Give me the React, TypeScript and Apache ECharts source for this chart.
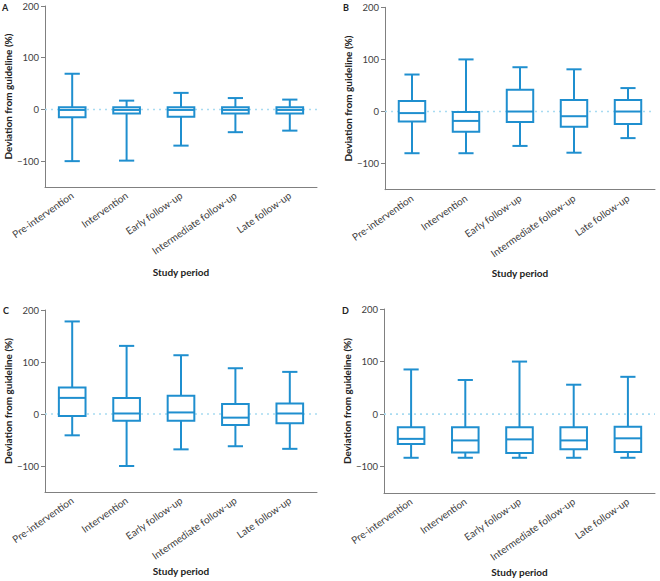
import React, { useEffect, useRef } from "react";
import * as echarts from "echarts";

const categories = [
  "Pre-intervention",
  "Intervention",
  "Early follow-up",
  "Intermediate follow-up",
  "Late follow-up",
];

// each row: [min, q1, median, q3, max]
const panelA = [
  [-100, -15, -1, 4, 69],
  [-99, -8, -1, 4, 17],
  [-70, -14, -1, 4, 32],
  [-44, -8, -1, 4, 22],
  [-41, -8, -1, 4, 19],
];
const panelB = [
  [-80, -19, -3, 20, 71],
  [-80, -39, -18, -1, 100],
  [-66, -20, 0, 42, 85],
  [-79, -29, -9, 22, 81],
  [-51, -24, 0, 22, 45],
];
const panelC = [
  [-41, -4, 31, 51, 178],
  [-100, -13, 1, 31, 131],
  [-68, -13, 3, 35, 113],
  [-62, -21, -7, 19, 88],
  [-67, -18, 1, 20, 81],
];
const panelD = [
  [-83, -57, -47, -25, 85],
  [-83, -73, -50, -25, 65],
  [-83, -74, -48, -25, 100],
  [-83, -67, -50, -25, 56],
  [-83, -72, -46, -24, 71],
];

const panelLetters = ["A", "B", "C", "D"];
const yTicks = [-100, 0, 100, 200];

const BLUE = "#1f8fcf";
const ZERO = "#a8dbf1";
const AXIS = "#808080";
const FONT = "Lato";

export default function App() {
  const ref = useRef<HTMLDivElement>(null);
  useEffect(() => {
    document.body.style.margin = "0";
    const chart = echarts.init(ref.current!, null, { renderer: "svg" });
    const panels = [panelA, panelB, panelC, panelD];
    const grids = [
      { left: 45, top: 6, width: 272, height: 181 },
      { left: 385, top: 7.3, width: 270, height: 182.4 },
      { left: 45, top: 310, width: 272, height: 182 },
      { left: 384, top: 309, width: 271, height: 184 },
    ];
    const xNameGaps = [80, 78, 74, 74];
    const letterPos = [
      [2, 3],
      [343, 3],
      [3, 306],
      [342, 306],
    ];

    const renderItem = (params: any, api: any) => {
      const x = api.value(0);
      const low = api.value(1);
      const q1 = api.value(2);
      const med = api.value(3);
      const q3 = api.value(4);
      const high = api.value(5);
      const cx = api.coord([x, med])[0];
      const y = (v: number) => api.coord([x, v])[1];
      const bw = api.size([1, 0])[0];
      const boxW = bw * 0.49;
      const capW = bw * 0.28;
      const ls = { stroke: BLUE, lineWidth: 2, fill: null };
      const children: any[] = [];
      if (params.dataIndex === 0) {
        const cs = params.coordSys;
        children.push({
          type: "line",
          silent: true,
          shape: { x1: cs.x, y1: y(0), x2: cs.x + cs.width, y2: y(0) },
          style: { stroke: ZERO, lineWidth: 1.6, lineDash: [2, 4], fill: null },
          z2: 0,
        });
      }
      children.push(
        { type: "line", shape: { x1: cx, y1: y(high), x2: cx, y2: y(q3) }, style: ls, z2: 1 },
        { type: "line", shape: { x1: cx, y1: y(q1), x2: cx, y2: y(low) }, style: ls, z2: 1 },
        { type: "line", shape: { x1: cx - capW / 2, y1: y(high), x2: cx + capW / 2, y2: y(high) }, style: ls, z2: 1 },
        { type: "line", shape: { x1: cx - capW / 2, y1: y(low), x2: cx + capW / 2, y2: y(low) }, style: ls, z2: 1 },
        {
          type: "rect",
          shape: { x: cx - boxW / 2, y: y(q3), width: boxW, height: y(q1) - y(q3) },
          style: { stroke: BLUE, lineWidth: 2, fill: "#ffffff" },
          z2: 2,
        },
        { type: "line", shape: { x1: cx - boxW / 2, y1: y(med), x2: cx + boxW / 2, y2: y(med) }, style: ls, z2: 3 }
      );
      return { type: "group", children };
    };

    const option: any = {
      animation: false,
      backgroundColor: "#ffffff",
      textStyle: { fontFamily: FONT },
      grid: grids,
      graphic: panelLetters.map((l, i) => ({
        type: "text",
        left: letterPos[i][0],
        top: letterPos[i][1],
        style: { text: l, fontFamily: FONT, fontWeight: "bold", fontSize: 9, fill: "#222" },
      })),
      xAxis: grids.map((_, i) => ({
        type: "category",
        gridIndex: i,
        data: categories,
        boundaryGap: true,
        name: "Study period",
        nameLocation: "middle",
        nameGap: xNameGaps[i],
        nameTextStyle: { fontFamily: FONT, fontWeight: "bold", fontSize: 10, color: "#222" },
        axisLine: { onZero: false, lineStyle: { color: AXIS, width: 1 } },
        axisTick: { alignWithLabel: true, length: 4, lineStyle: { color: AXIS } },
        axisLabel: { rotate: 35, fontSize: 10, color: "#404040", margin: 7, fontFamily: FONT, interval: 0 },
        splitLine: { show: false },
      })),
      yAxis: grids.map((_, i) => ({
        type: "value",
        gridIndex: i,
        min: -150,
        max: 200,
        interval: 50,
        name: "Deviation from guideline (%)",
        nameLocation: "middle",
        nameGap: 32,
        nameTextStyle: { fontFamily: FONT, fontWeight: "bold", fontSize: 10, color: "#222" },
        axisLine: { show: true, lineStyle: { color: AXIS, width: 1 } },
        axisTick: { show: true, length: 4, lineStyle: { color: AXIS }, customValues: yTicks },
        axisLabel: {
          fontSize: 9.5,
          color: "#404040",
          margin: 6,
          fontFamily: FONT,
          customValues: yTicks,
          formatter: (v: number) => (v % 100 === 0 ? (v < 0 ? "\u2212" + Math.abs(v) : String(v)) : ""),
        },
        splitLine: { show: false },
      })),
      series: panels.map((p, i) => ({
        type: "custom",
        xAxisIndex: i,
        yAxisIndex: i,
        renderItem,
        encode: { x: 0, y: [1, 2, 3, 4, 5] },
        data: categories.map((_, k) => [k, ...p[k]]),
        clip: false,
      })),
    };
    chart.setOption(option);
    return () => chart.dispose();
  }, []);
  return <div ref={ref} style={{ width: 660, height: 581 }} />;
}
